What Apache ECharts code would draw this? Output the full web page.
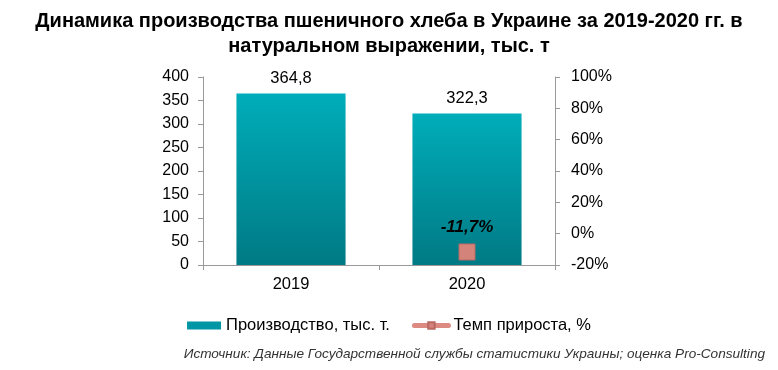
<!DOCTYPE html>
<html><head><meta charset="utf-8">
<script src="https://cdn.jsdelivr.net/npm/echarts@6/dist/echarts.min.js"></script>
<style>html,body{margin:0;padding:0;background:#fff}#c{width:778px;height:370px}</style>
</head><body><div id="c"></div>
<script>
const categories = ['2019', '2020'];
const production = [364.8, 322.3];
const growth = [null, -11.7];
const leftTicks = [0, 400, 50];
const rightTicks = [-20, 100, 20];
const titleText = 'Динамика производства пшеничного хлеба в Украине за 2019-2020 гг. в\nнатуральном выражении, тыс. т';
const sourceText = 'Источник: Данные Государственной службы статистики Украины; оценка Pro-Consulting';
const fmt = v => String(v).replace('.', ',');

const chart = echarts.init(document.getElementById('c'), null, {renderer: 'canvas'});
const font = 'Arial, "Liberation Sans", sans-serif';
chart.setOption({
  animation: false,
  textStyle: {fontFamily: font},
  title: {
    text: titleText, left: 'center', top: 4,
    textStyle: {fontSize: 20, fontWeight: 'bold', color: '#000', lineHeight: 25, fontFamily: font}
  },
  graphic: [{
    type: 'text', right: 13, top: 347,
    style: {text: sourceText, font: 'italic 13.6px ' + font, fill: '#333'}
  }],
  legend: {
    top: 312, left: 'center', itemGap: 22, itemWidth: 34, itemHeight: 8,
    textStyle: {fontSize: 16.5, color: '#000', fontFamily: font},
    data: [
      {name: 'Производство, тыс. т.', icon: 'rect', itemStyle: {color: '#0096a3'}},
      {name: 'Темп прироста, %', lineStyle: {width: 5, cap: 'round', color: '#dd8a82'}}
    ]
  },
  grid: {left: 203, right: 223, top: 77, bottom: 105},
  xAxis: {
    type: 'category', data: categories,
    axisLine: {lineStyle: {color: '#999'}},
    axisTick: {show: true, length: 5, lineStyle: {color: '#999'}},
    axisLabel: {fontSize: 16.5, color: '#000', margin: 11}
  },
  yAxis: [{
    type: 'value', min: leftTicks[0], max: leftTicks[1], interval: leftTicks[2],
    axisLine: {show: true, lineStyle: {color: '#999'}},
    axisTick: {show: true, length: 5, lineStyle: {color: '#999'}},
    splitLine: {show: false},
    axisLabel: {fontSize: 16, color: '#000', margin: 14}
  }, {
    type: 'value', min: rightTicks[0], max: rightTicks[1], interval: rightTicks[2],
    axisLine: {show: true, lineStyle: {color: '#999'}},
    axisTick: {show: true, length: 5, lineStyle: {color: '#999'}},
    splitLine: {show: false},
    axisLabel: {fontSize: 16, color: '#000', margin: 16, formatter: v => v + '%'}
  }],
  series: [{
    name: 'Производство, тыс. т.', type: 'bar', data: production, barWidth: '62%',
    itemStyle: {color: new echarts.graphic.LinearGradient(0, 0, 0, 1, [
      {offset: 0, color: '#00adba'}, {offset: 1, color: '#007a84'}])},
    label: {show: true, position: 'top', fontSize: 16.5, color: '#000', distance: 7,
      formatter: p => fmt(p.value)}
  }, {
    name: 'Темп прироста, %', type: 'line', yAxisIndex: 1, data: growth,
    symbol: 'rect', symbolSize: 16,
    lineStyle: {color: '#dd8a82', width: 5},
    itemStyle: {color: '#d4837b', borderColor: '#b86a62', borderWidth: 1},
    label: {show: true, position: 'top', distance: 8, fontSize: 17, fontWeight: 'bold',
      fontStyle: 'italic', color: '#000', formatter: p => fmt(p.value) + '%'}
  }]
});
</script></body></html>
